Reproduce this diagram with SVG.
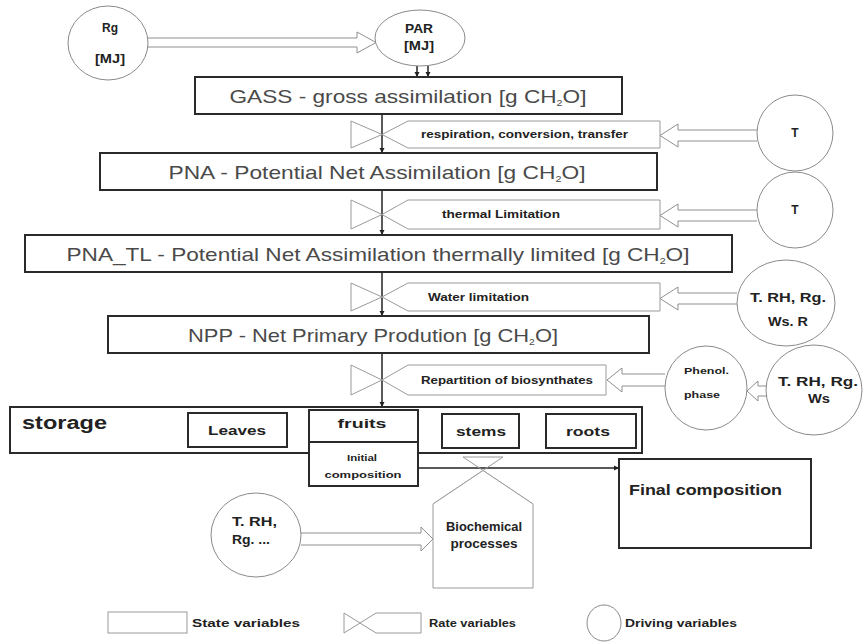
<svg xmlns="http://www.w3.org/2000/svg" width="863" height="642" viewBox="0 0 863 642">
<style>
.state{fill:#fff;stroke:#2a2a2a;stroke-width:2}
.rate{fill:#fff;stroke:#9a9a9a;stroke-width:1}
.xl{fill:none;stroke:#9a9a9a;stroke-width:1}
.drv{fill:#fff;stroke:#8a8a8a;stroke-width:1}
.harrow{fill:#fff;stroke:#8f8f8f;stroke-width:1}
.flow{fill:none;stroke:#222;stroke-width:1.5}
.big{font-family:"Liberation Sans",Arial,sans-serif;fill:#4a4a4a;text-anchor:middle}
.lbl{font-family:"Liberation Sans",Arial,sans-serif;font-weight:bold;fill:#222}
.mid{text-anchor:middle}
</style>
<defs>
<marker id="dot" markerWidth="6" markerHeight="6" refX="5" refY="3" orient="auto" markerUnits="userSpaceOnUse">
<path d="M0,0.5 L5,3 L0,5.5 Z" fill="#222"/>
</marker>
</defs>
<rect width="863" height="642" fill="#fff"/>

<g id="connectors">
<path class="harrow" d="M148,38 H357 V32 L376,42.5 L357,53 V47 H148"/>
<line class="flow" x1="417" y1="66" x2="417" y2="77" stroke-width="1" marker-end="url(#dot)"/>
<line class="flow" x1="428" y1="66" x2="428" y2="77" stroke-width="1" marker-end="url(#dot)"/>
<line class="flow" x1="382" y1="114" x2="382" y2="153" marker-end="url(#dot)"/>
<line class="flow" x1="382" y1="190" x2="382" y2="235" marker-end="url(#dot)"/>
<line class="flow" x1="382" y1="272" x2="382" y2="316" marker-end="url(#dot)"/>
<line class="flow" x1="382" y1="353" x2="382" y2="407" marker-end="url(#dot)"/>
<path class="harrow" d="M757,130 H678 V124 L660,135.5 L678,147 V141 H757"/>
<path class="harrow" d="M757,210 H678 V204 L660,215.5 L678,227 V221 H757"/>
<path class="harrow" d="M737,293 H678 V287 L660,298.5 L678,310 V304 H737"/>
<path class="harrow" d="M665,374 H622 V368 L607,380 L622,392 V386 H665"/>
<path class="harrow" d="M767,386 H758 V381 L747,391 L758,401 V396 H767"/>
<path class="harrow" d="M301,533 H421 V527 L433,539 L421,551 V545 H301"/>
<line class="flow" x1="419" y1="468" x2="619" y2="468" stroke-width="1" marker-end="url(#dot)"/>
</g>

<g id="Rg">
<ellipse class="drv" cx="108" cy="43" rx="40" ry="37"/>
<text class="lbl mid" x="110" y="32" font-size="12">Rg</text>
<text class="lbl mid" x="110" y="63" font-size="12" textLength="30" lengthAdjust="spacingAndGlyphs">[MJ]</text>
</g>
<g id="PAR">
<ellipse class="drv" cx="420" cy="38" rx="45" ry="28"/>
<text class="lbl mid" x="419" y="33" font-size="12" textLength="28" lengthAdjust="spacingAndGlyphs">PAR</text>
<text class="lbl mid" x="419" y="50" font-size="12" textLength="30" lengthAdjust="spacingAndGlyphs">[MJ]</text>
</g>

<g id="GASS">
<rect class="state" x="195" y="77" width="427" height="37"/>
<text class="big" x="408" y="103" font-size="19" textLength="357" lengthAdjust="spacingAndGlyphs">GASS - gross assimilation [g CH<tspan font-size="9" dy="3">2</tspan><tspan dy="-3">O]</tspan></text>
</g>

<g id="rate1">
<path class="rate" d="M351,121 V148 L382,134.5 Z M382,134.5 L408,121 H660 V148 H408 Z"/>
<text class="lbl" x="421" y="138" font-size="10" textLength="207" lengthAdjust="spacingAndGlyphs">respiration, conversion, transfer</text>
</g>
<g id="T1">
<ellipse class="drv" cx="795" cy="133" rx="38" ry="38"/>
<text class="lbl mid" x="795" y="137" font-size="12">T</text>
</g>

<g id="PNA">
<rect class="state" x="100" y="153" width="557" height="37"/>
<text class="big" x="377" y="179" font-size="19" textLength="417" lengthAdjust="spacingAndGlyphs">PNA - Potential Net Assimilation [g CH<tspan font-size="9" dy="3">2</tspan><tspan dy="-3">O]</tspan></text>
</g>

<g id="rate2">
<path class="rate" d="M351,200 V229 L382,214.5 Z M382,214.5 L408,200 H660 V229 H408 Z"/>
<text class="lbl" x="442" y="218" font-size="10" textLength="118" lengthAdjust="spacingAndGlyphs">thermal Limitation</text>
</g>
<g id="T2">
<ellipse class="drv" cx="795" cy="210" rx="38" ry="38"/>
<text class="lbl mid" x="795" y="214" font-size="12">T</text>
</g>

<g id="PNA_TL">
<rect class="state" x="25" y="235" width="707" height="37"/>
<text class="big" x="378" y="261" font-size="19" textLength="623" lengthAdjust="spacingAndGlyphs">PNA_TL - Potential Net Assimilation thermally limited [g CH<tspan font-size="9" dy="3">2</tspan><tspan dy="-3">O]</tspan></text>
</g>

<g id="rate3">
<path class="rate" d="M351,283 V311 L382,297 Z M382,297 L408,283 H660 V311 H408 Z"/>
<text class="lbl" x="428" y="301" font-size="10" textLength="101" lengthAdjust="spacingAndGlyphs">Water limitation</text>
</g>
<g id="TRHRgWsR">
<ellipse class="drv" cx="786" cy="303" rx="49" ry="43"/>
<text class="lbl mid" x="788" y="302" font-size="12" textLength="76" lengthAdjust="spacingAndGlyphs">T. RH, Rg.</text>
<text class="lbl mid" x="788" y="326" font-size="12" textLength="40" lengthAdjust="spacingAndGlyphs">Ws. R</text>
</g>

<g id="NPP">
<rect class="state" x="108" y="316" width="541" height="37"/>
<text class="big" x="373" y="342" font-size="19" textLength="370" lengthAdjust="spacingAndGlyphs">NPP - Net Primary Prodution [g CH<tspan font-size="9" dy="3">2</tspan><tspan dy="-3">O]</tspan></text>
</g>

<g id="rate4">
<path class="rate" d="M351,365 V395 L382,380 Z M382,380 L408,365 H606 V395 H408 Z"/>
<text class="lbl" x="421" y="384" font-size="11" textLength="172" lengthAdjust="spacingAndGlyphs">Repartition of biosynthates</text>
</g>
<g id="Phenol">
<ellipse class="drv" cx="706" cy="388" rx="41" ry="42"/>
<text class="lbl" x="684" y="374" font-size="9" textLength="45" lengthAdjust="spacingAndGlyphs">Phenol.</text>
<text class="lbl" x="684" y="398" font-size="9" textLength="36" lengthAdjust="spacingAndGlyphs">phase</text>
</g>
<g id="TRHRgWs">
<ellipse class="drv" cx="814" cy="390" rx="48" ry="45"/>
<text class="lbl mid" x="818" y="386" font-size="12" textLength="80" lengthAdjust="spacingAndGlyphs">T. RH, Rg.</text>
<text class="lbl mid" x="819" y="403" font-size="12" textLength="22" lengthAdjust="spacingAndGlyphs">Ws</text>
</g>

<g id="storage">
<rect class="state" x="10" y="407" width="632" height="46"/>
<text class="lbl" x="22" y="429" font-size="18" textLength="85" lengthAdjust="spacingAndGlyphs">storage</text>
</g>
<g id="Leaves">
<rect class="state" x="188" y="413" width="99" height="34"/>
<text class="lbl mid" x="237" y="435" font-size="13" textLength="58" lengthAdjust="spacingAndGlyphs">Leaves</text>
</g>
<g id="fruits">
<rect class="state" x="309" y="410" width="109" height="32"/>
<text class="lbl mid" x="362" y="428" font-size="13" textLength="49" lengthAdjust="spacingAndGlyphs">fruits</text>
</g>
<g id="stems">
<rect class="state" x="442" y="414" width="77" height="34"/>
<text class="lbl mid" x="481" y="436" font-size="13" textLength="50" lengthAdjust="spacingAndGlyphs">stems</text>
</g>
<g id="roots">
<rect class="state" x="546" y="414" width="90" height="34"/>
<text class="lbl mid" x="588" y="436" font-size="13" textLength="44" lengthAdjust="spacingAndGlyphs">roots</text>
</g>
<g id="initial">
<rect class="state" x="309" y="442" width="109" height="44"/>
<text class="lbl mid" x="362" y="461" font-size="9" textLength="30" lengthAdjust="spacingAndGlyphs">Initial</text>
<text class="lbl mid" x="363" y="478" font-size="9" textLength="77" lengthAdjust="spacingAndGlyphs">composition</text>
</g>

<g id="biochem">
<path class="xl" d="M463,457 H503 M463,457 L533,504 M503,457 L433,504"/>
<path class="rate" d="M483,470.5 L533,504 V588 H433 V504 Z"/>
<text class="lbl mid" x="484" y="531" font-size="12" textLength="76" lengthAdjust="spacingAndGlyphs">Biochemical</text>
<text class="lbl mid" x="484" y="548" font-size="12" textLength="67" lengthAdjust="spacingAndGlyphs">processes</text>
</g>
<g id="TRHRg">
<ellipse class="drv" cx="256" cy="535" rx="45" ry="42"/>
<text class="lbl" x="232" y="526" font-size="12" textLength="45" lengthAdjust="spacingAndGlyphs">T. RH,</text>
<text class="lbl" x="232" y="544" font-size="12" textLength="38" lengthAdjust="spacingAndGlyphs">Rg. ...</text>
</g>
<g id="final">
<rect class="state" x="619" y="459" width="192" height="89"/>
<text class="lbl" x="629" y="495" font-size="15" textLength="153" lengthAdjust="spacingAndGlyphs">Final composition</text>
</g>

<g id="legend">
<rect class="rate" x="108" y="612" width="79" height="21"/>
<text class="lbl" x="192" y="627" font-size="11" textLength="108" lengthAdjust="spacingAndGlyphs">State variables</text>
<path class="rate" d="M344,613 V633 L376,613 H421 V633 H376 L344,613"/>
<text class="lbl" x="429" y="627" font-size="11" textLength="87" lengthAdjust="spacingAndGlyphs">Rate variables</text>
<ellipse class="drv" cx="604" cy="623" rx="17" ry="18"/>
<text class="lbl" x="625" y="627" font-size="11" textLength="112" lengthAdjust="spacingAndGlyphs">Driving  variables</text>
</g>
</svg>
